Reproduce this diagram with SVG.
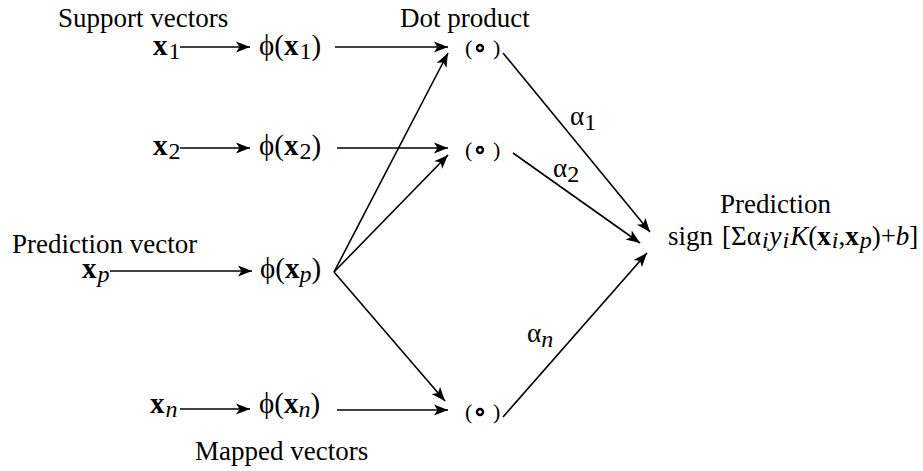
<svg xmlns="http://www.w3.org/2000/svg" width="923" height="471" viewBox="0 0 923 471">
<style>
.t{font-family:'Liberation Serif','Times New Roman',serif;font-size:27px;fill:#000}
.m{font-size:29px}
.b{font-weight:bold}
.i{font-style:italic}
.s{font-size:24px}
.p{font-size:22px}
.ln{stroke:#000;stroke-width:1.6;fill:none}
.ar{marker-end:url(#ah)}
</style>
<defs>
<marker id="ah" markerUnits="userSpaceOnUse" markerWidth="18" markerHeight="14" refX="15" refY="7" orient="auto">
<path d="M1,1.5 L15,7 L1,12.5 L4.5,7 z" fill="#000"/>
</marker>
</defs>
<rect width="923" height="471" fill="#fff"/>
<g font-family="'Liberation Serif', serif">
<g id="labels">
<text class="t" x="58" y="27">Support vectors</text>
<text class="t" x="400" y="27">Dot product</text>
<text class="t" x="12" y="253">Prediction vector</text>
<text class="t" x="195" y="460">Mapped vectors</text>
</g>
<g id="x1"><text class="t m" x="153" y="55"><tspan class="b">x</tspan><tspan class="s" dx="1" dy="4">1</tspan></text></g>
<g id="x2"><text class="t m" x="153" y="155"><tspan class="b">x</tspan><tspan class="s" dx="1" dy="4">2</tspan></text></g>
<g id="xp"><text class="t m" x="82" y="278"><tspan class="b">x</tspan><tspan class="s i" dx="1" dy="4">p</tspan></text></g>
<g id="xn"><text class="t m" x="150" y="413"><tspan class="b">x</tspan><tspan class="s i" dx="1" dy="4">n</tspan></text></g>
<g id="phi1"><text class="t m" x="259" y="55">ϕ(<tspan class="b">x</tspan><tspan class="s" dx="1" dy="4">1</tspan><tspan dy="-4">)</tspan></text></g>
<g id="phi2"><text class="t m" x="259" y="155">ϕ(<tspan class="b">x</tspan><tspan class="s" dx="1" dy="4">2</tspan><tspan dy="-4">)</tspan></text></g>
<g id="phip"><text class="t m" x="260" y="278">ϕ(<tspan class="b">x</tspan><tspan class="s i" dy="4">p</tspan><tspan dy="-4">)</tspan></text></g>
<g id="phin"><text class="t m" x="259" y="413">ϕ(<tspan class="b">x</tspan><tspan class="s i" dy="4">n</tspan><tspan dy="-4">)</tspan></text></g>
<g id="dot1"><text class="t p" x="465" y="55">(</text><circle cx="480" cy="48" r="3" fill="none" stroke="#000" stroke-width="2.4"/><text class="t p" x="493" y="55">)</text></g>
<g id="dot2"><text class="t p" x="465" y="157">(</text><circle cx="480" cy="150" r="3" fill="none" stroke="#000" stroke-width="2.4"/><text class="t p" x="493" y="157">)</text></g>
<g id="dotn"><text class="t p" x="465" y="419">(</text><circle cx="480" cy="412" r="3" fill="none" stroke="#000" stroke-width="2.4"/><text class="t p" x="493" y="419">)</text></g>
<g id="prediction">
<text class="t" x="720" y="213">Prediction</text>
<text class="t" x="668" y="245">sign<tspan dx="9">[Σα</tspan><tspan class="i s" dx="1" dy="3">i</tspan><tspan class="i" dx="1" dy="-3">y</tspan><tspan class="i s" dx="1" dy="3">i</tspan><tspan class="i" dx="1" dy="-3">K</tspan><tspan>(</tspan><tspan class="b">x</tspan><tspan class="i s" dx="1" dy="3">i</tspan><tspan dy="-3">,</tspan><tspan class="b">x</tspan><tspan class="i s" dx="1" dy="3">p</tspan><tspan dy="-3">)+</tspan><tspan class="i">b</tspan><tspan>]</tspan></text>
</g>
<g id="weights">
<text class="t" x="570" y="125">α<tspan class="s" dy="5">1</tspan></text>
<text class="t" x="553" y="177">α<tspan class="s" dy="5">2</tspan></text>
<text class="t" x="527" y="342">α<tspan class="s i" dy="5">n</tspan></text>
</g>
</g>
<g id="connectors">
<line class="ln ar" x1="180" y1="47" x2="250" y2="47"/>
<line class="ln ar" x1="180" y1="148" x2="250" y2="148"/>
<line class="ln ar" x1="110" y1="271" x2="252" y2="271"/>
<line class="ln ar" x1="180" y1="409" x2="250" y2="409"/>
<line class="ln ar" x1="335" y1="47" x2="448" y2="47"/>
<line class="ln ar" x1="337" y1="148" x2="448" y2="148"/>
<line class="ln ar" x1="337" y1="410" x2="448" y2="410"/>
<line class="ln ar" x1="334" y1="272" x2="448" y2="53"/>
<line class="ln ar" x1="334" y1="272" x2="448" y2="155"/>
<line class="ln ar" x1="334" y1="272" x2="445" y2="401"/>
<line class="ln ar" x1="503" y1="53" x2="650" y2="232"/>
<line class="ln ar" x1="513" y1="153" x2="640" y2="243"/>
<line class="ln ar" x1="503" y1="417" x2="647" y2="253"/>
</g>
</svg>
